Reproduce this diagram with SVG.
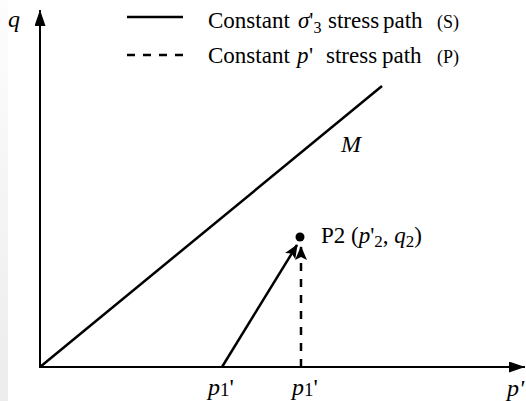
<svg xmlns="http://www.w3.org/2000/svg" width="526" height="401" viewBox="0 0 526 401">
<style>
.ln{stroke:#000;stroke-width:2.5;fill:none}
.ax{stroke:#000;stroke-width:2;fill:none}
.dash{stroke-dasharray:8 8}
.t{font-family:"Liberation Serif",serif;fill:#000}
.i{font-style:italic}
.lg{font-size:23px}
.sm{font-size:18px}
</style>
<defs>
<linearGradient id="edge" x1="0" y1="0" x2="0" y2="1">
<stop offset="0" stop-color="#fdfdfd"/>
<stop offset="1" stop-color="#ececec"/>
</linearGradient>
<marker id="ah" viewBox="0 0 14 12" refX="13" refY="6" markerWidth="14" markerHeight="12" markerUnits="userSpaceOnUse" orient="auto">
<path d="M0,0 L14,6 L0,12 L3,6 Z" fill="#000"/>
</marker>
<marker id="axh" viewBox="0 0 16 11" refX="16" refY="5.5" markerWidth="16" markerHeight="11" markerUnits="userSpaceOnUse" orient="auto">
<path d="M0,0 L16,5.5 L0,11 Z" fill="#000"/>
</marker>
</defs>
<rect x="0" y="0" width="526" height="401" fill="#fff"/>
<rect x="0" y="0" width="8" height="401" fill="url(#edge)"/>
<g id="axes">
<line class="ax" x1="40" y1="368" x2="40" y2="10" marker-end="url(#axh)"/>
<line class="ax" x1="39" y1="367" x2="525" y2="367" marker-end="url(#axh)"/>
<text class="t i" x="8" y="27" font-size="24">q</text>
<text class="t i" x="507" y="396" font-size="24">p'</text>
</g>
<g id="legend">
<line class="ln" x1="127" y1="17" x2="183" y2="17"/>
<line class="ln dash" x1="127" y1="55" x2="185" y2="55"/>
<text class="t lg" y="28"><tspan x="208">Constant</tspan><tspan x="298" class="i">σ</tspan><tspan>'</tspan><tspan font-size="16" dy="5">3</tspan><tspan dy="-5" x="328">stress</tspan><tspan x="383">path</tspan><tspan x="437" class="sm">(S)</tspan></text>
<text class="t lg" y="63"><tspan x="208">Constant</tspan><tspan x="297" class="i">p</tspan><tspan x="309">'</tspan><tspan x="326">stress</tspan><tspan x="382">path</tspan><tspan x="437" class="sm">(P)</tspan></text>
</g>
<g id="M-line">
<line class="ln" x1="40" y1="367" x2="382" y2="86"/>
<text class="t i" x="341" y="152" font-size="24">M</text>
</g>
<g id="connectors">
<line class="ln" x1="222" y1="367" x2="297" y2="245" marker-end="url(#ah)"/>
<line class="ln dash" x1="301" y1="367" x2="301" y2="247" marker-end="url(#ah)"/>
</g>
<g id="P2">
<circle cx="300" cy="237" r="4.5" fill="#000"/>
<text class="t" x="321" y="243" font-size="23">P2 (<tspan class="i">p</tspan>'<tspan font-size="17" dy="4">2</tspan><tspan dy="-4">, </tspan><tspan class="i">q</tspan><tspan font-size="17" dy="4">2</tspan><tspan dy="-4">)</tspan></text>
</g>
<g id="p1a">
<text class="t" x="208" y="395" font-size="24"><tspan class="i">p</tspan><tspan font-size="19" dy="1">1</tspan><tspan dy="-1">'</tspan></text>
</g>
<g id="p1b">
<text class="t" x="292" y="395" font-size="24"><tspan class="i">p</tspan><tspan font-size="19" dy="1">1</tspan><tspan dy="-1">'</tspan></text>
</g>
</svg>
